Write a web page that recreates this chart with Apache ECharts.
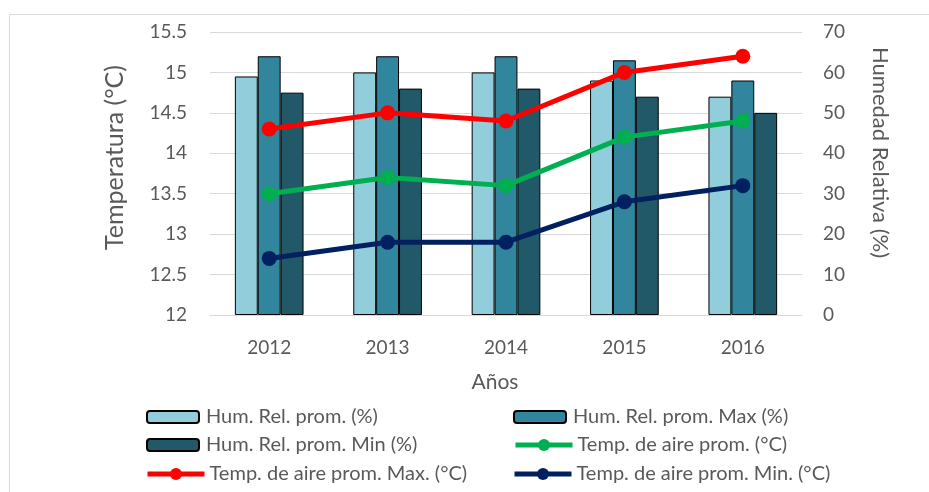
<!DOCTYPE html>
<html>
<head>
<meta charset="utf-8">
<script src="https://cdn.jsdelivr.net/npm/echarts@6/dist/echarts.min.js"></script>
<style>
  html, body { margin: 0; padding: 0; background: #fff; }
  #chart { width: 929px; height: 492px; }
</style>
</head>
<body>
<div id="chart"></div>
<script>
// datos
var years = ['2012', '2013', '2014', '2015', '2016'];
var humProm = [59, 60, 60, 58, 54];
var humMax = [64, 64, 64, 63, 58];
var humMin = [55, 56, 56, 54, 50];
var tempProm = [13.5, 13.7, 13.6, 14.2, 14.4];
var tempMax = [14.3, 14.5, 14.4, 15.0, 15.2];
var tempMin = [12.7, 12.9, 12.9, 13.4, 13.6];

var names = [
  'Hum. Rel. prom. (%)',
  'Hum. Rel. prom. Max (%)',
  'Hum. Rel. prom. Min (%)',
  'Temp. de aire prom. (°C)',
  'Temp. de aire prom. Max. (°C)',
  'Temp. de aire prom. Min. (°C)'
];

var font = 'Lato, "Open Sans", sans-serif';
var txt = '#595959';
var gridColor = '#d9d9d9';

function barSerie(name, data, color) {
  return {
    name: name,
    type: 'bar',
    yAxisIndex: 1,
    data: data,
    barGap: '0%',
    barCategoryGap: '42%',
    itemStyle: { color: color, borderColor: '#000', borderWidth: 1 }
  };
}
function lineSerie(name, data, color) {
  return {
    name: name,
    type: 'line',
    yAxisIndex: 0,
    data: data,
    symbol: 'circle',
    symbolSize: 15,
    lineStyle: { color: color, width: 5 },
    itemStyle: { color: color },
    z: 5
  };
}

// una leyenda por elemento para ubicarlas en dos columnas
var legendPos = [
  [146, 407], [513, 407],
  [146, 435], [513, 435],
  [145, 464], [512, 464]
];
var legends = names.map(function (n, i) {
  var isLine = i >= 3;
  return {
    data: [n],
    left: legendPos[i][0],
    top: legendPos[i][1],
    padding: 0,
    itemWidth: isLine ? 57 : 52,
    itemHeight: isLine ? 15 : 12,
    itemGap: 0,
    lineStyle: { width: 5 },
    textStyle: { fontFamily: font, fontSize: 20, color: txt, padding: isLine ? 0 : [0, 0, 0, 2] }
  };
});

var chart = echarts.init(document.getElementById('chart'));
chart.setOption({
  animation: false,
  backgroundColor: '#fff',
  graphic: [{
    type: 'rect',
    shape: { x: 9.5, y: 14.5, width: 1000, height: 1000 },
    style: { fill: 'none', stroke: '#d9d9d9', lineWidth: 1 },
    silent: true
  }],
  legend: legends,
  grid: { left: 210, right: 127, top: 32, bottom: 177 },
  xAxis: {
    type: 'category',
    data: years,
    name: 'Años',
    nameLocation: 'middle',
    nameGap: 57,
    nameTextStyle: { fontFamily: font, fontSize: 21, color: txt, padding: [0, 22, 0, 0] },
    axisLine: { lineStyle: { color: gridColor } },
    axisTick: { show: false },
    axisLabel: { fontFamily: font, fontSize: 19, color: txt, margin: 23 }
  },
  yAxis: [{
    type: 'value',
    min: 12,
    max: 15.5,
    interval: 0.5,
    name: 'Temperatura (°C)',
    nameLocation: 'middle',
    nameGap: 83,
    nameTextStyle: { fontFamily: font, fontSize: 25, color: txt, padding: [0, 0, 0, 32] },
    axisLine: { show: false },
    axisTick: { show: false },
    axisLabel: { fontFamily: font, fontSize: 19, color: txt, margin: 23 },
    splitLine: { lineStyle: { color: gridColor, width: 1 } }
  }, {
    type: 'value',
    min: 0,
    max: 70,
    interval: 10,
    name: 'Humedad Relativa (%)',
    nameLocation: 'middle',
    nameRotate: -90,
    nameGap: 67,
    nameTextStyle: { fontFamily: font, fontSize: 22, color: txt, padding: [0, 42, 0, 0] },
    axisLine: { show: false },
    axisTick: { show: false },
    axisLabel: { fontFamily: font, fontSize: 19, color: txt, margin: 21 },
    splitLine: { show: false }
  }],
  series: [
    barSerie(names[0], humProm, '#92CDDC'),
    barSerie(names[1], humMax, '#31859C'),
    barSerie(names[2], humMin, '#215968'),
    lineSerie(names[3], tempProm, '#00B050'),
    lineSerie(names[4], tempMax, '#FF0000'),
    lineSerie(names[5], tempMin, '#002060')
  ]
});
</script>
</body>
</html>
